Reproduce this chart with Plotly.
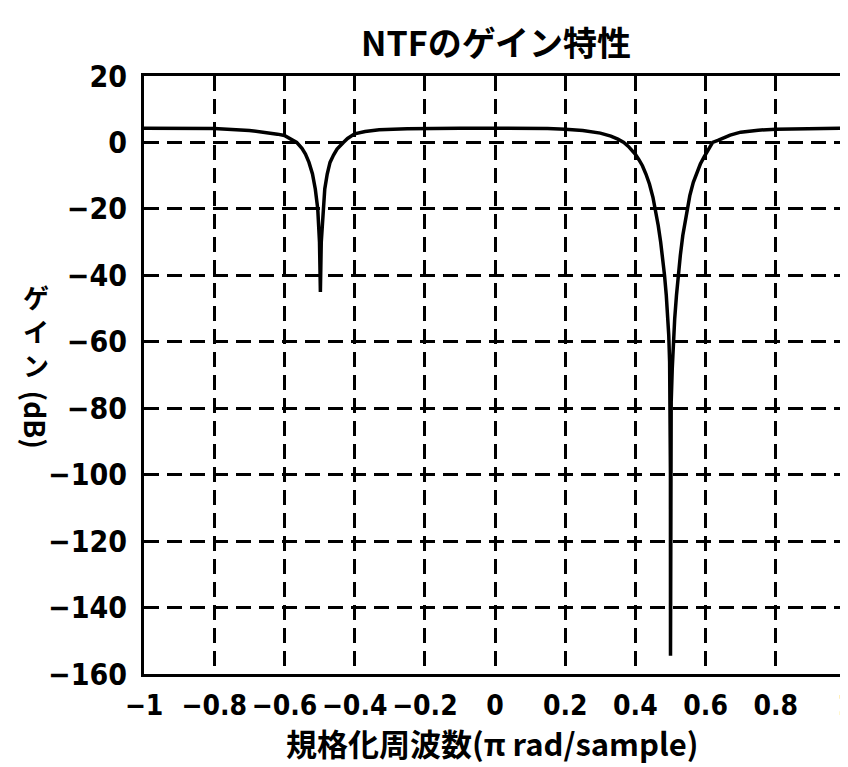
import plotly.graph_objects as go

# Normalized frequency (x pi rad/sample) and NTF gain (dB)
freq = [-1.0, -0.9, -0.8, -0.7, -0.65, -0.62, -0.60, -0.58, -0.565, -0.55, -0.54,
        -0.53, -0.52, -0.512, -0.505, -0.50, -0.4975, -0.495, -0.49, -0.485,
        -0.478, -0.47, -0.46, -0.45, -0.432, -0.42, -0.40, -0.37, -0.33, -0.25,
        -0.1, 0.0, 0.15, 0.20, 0.25, 0.30, 0.33, 0.35, 0.367, 0.38, 0.39, 0.40,
        0.41, 0.42, 0.43, 0.44, 0.45, 0.457, 0.465, 0.472, 0.478, 0.483, 0.488,
        0.492, 0.495, 0.4975, 0.499, 0.4998, 0.50, 0.5004, 0.502, 0.505, 0.508,
        0.512, 0.517, 0.522, 0.528, 0.535, 0.541, 0.547, 0.555, 0.565, 0.575,
        0.585, 0.595, 0.605, 0.62, 0.635, 0.65, 0.67, 0.70, 0.75, 0.80, 0.9, 1.0]
gain = [4.3, 4.3, 4.2, 3.6, 3.0, 2.5, 2.1, 1.0, 0.0, -1.8, -3.5,
        -6.0, -9.5, -14.0, -20.0, -30.0, -45.0, -30.0, -20.0, -14.0,
        -9.5, -6.0, -3.8, -2.0, 0.0, 1.2, 2.6, 3.3, 3.8, 4.1,
        4.3, 4.3, 4.2, 4.0, 3.6, 2.8, 1.9, 1.0, 0.0, -1.2, -2.3, -3.6,
        -5.2, -7.0, -9.5, -12.5, -16.5, -20.0, -25.0, -30.0, -35.0, -40.0, -46.0,
        -52.0, -58.0, -66.0, -78.0, -100.0, -154.5, -100.0, -78.0, -68.0, -60.0,
        -53.0, -46.0, -40.0, -34.0, -28.0, -24.0, -20.0, -16.0, -12.0, -9.0,
        -6.5, -4.5, -2.8, 0.0, 0.6, 1.3, 2.2, 3.1, 3.7, 4.0, 4.2, 4.3]

x_ticks = [-1, -0.8, -0.6, -0.4, -0.2, 0, 0.2, 0.4, 0.6, 0.8, 1]
x_labels = ["\u22121", "\u22120.8", "\u22120.6", "\u22120.4", "\u22120.2", "0",
            "0.2", "0.4", "0.6", "0.8", "1"]
y_ticks = [20, 0, -20, -40, -60, -80, -100, -120, -140, -160]
y_labels = ["20", "0", "\u221220", "\u221240", "\u221260", "\u221280",
            "\u2212100", "\u2212120", "\u2212140", "\u2212160"]

title_text = "NTFのゲイン特性"
xlabel_text = "規格化周波数(π rad/sample)"
ylabel_kana = "ゲ<br>イ<br>ン"
ylabel_unit = "(dB)"

W, H = 848, 767
L, R, T, B = 136, 1, 68, 101
pw, ph = W - L - R, H - T - B

cjk = "Noto Sans CJK JP"
num_font = "Liberation Sans Narrow, DejaVu Sans Condensed, Liberation Sans, sans-serif"

fig = go.Figure()
fig.add_trace(go.Scatter(x=freq, y=gain, mode="lines",
                         line=dict(color="black", width=3.5), showlegend=False))

axis_common = dict(showline=True, linecolor="black", linewidth=3, mirror=True,
                   showgrid=True, gridcolor="black", gridwidth=2.5, griddash="15px,8px",
                   zeroline=False, ticks="", color="black")

fig.update_xaxes(range=[-1, 1], tickvals=x_ticks, ticktext=x_labels,
                 tickfont=dict(family=num_font, size=28, color="black", weight="bold"),
                 ticklabelstandoff=4, ticklabeloverflow="allow", **axis_common)
fig.update_yaxes(range=[-160, 20], tickvals=y_ticks, ticktext=y_labels,
                 tickfont=dict(family=num_font, size=30, color="black", weight="bold"),
                 ticklabelstandoff=8, **axis_common)

annotations = [
    dict(text=xlabel_text, x=(488 - L) / pw, y=-(734 - (T + ph)) / ph,
         xref="paper", yref="paper", showarrow=False, xanchor="center", yanchor="middle",
         font=dict(family=cjk, size=31, color="black", weight="bold")),
    dict(text=ylabel_kana, x=(27 - L) / pw, y=((T + ph) - 322) / ph,
         xref="paper", yref="paper", showarrow=False, xanchor="center", yanchor="middle",
         font=dict(family=cjk, size=26, color="black", weight="bold")),
    dict(text=ylabel_unit, x=(27 - L) / pw, y=((T + ph) - 412) / ph,
         xref="paper", yref="paper", showarrow=False, xanchor="center", yanchor="middle",
         textangle=90, font=dict(family=cjk, size=28, color="black", weight="bold")),
]

fig.update_layout(
    width=W, height=H,
    margin=dict(l=L, r=R, t=T, b=B),
    paper_bgcolor="white", plot_bgcolor="white",
    title=dict(text=title_text, x=488 / W, xref="container", xanchor="center",
               y=1 - 36 / H, yref="container", yanchor="middle",
               font=dict(family=cjk, size=34, color="black", weight="bold")),
    annotations=annotations,
)

fig.write_html("out.html")
